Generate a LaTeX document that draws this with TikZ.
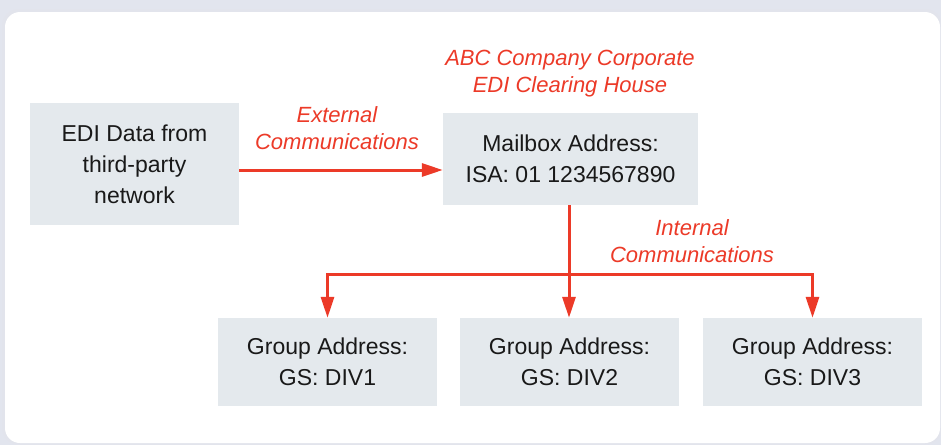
\documentclass[tikz,border=0pt]{standalone}
\usepackage{fontspec}
\setmainfont{Liberation Sans}
\usetikzlibrary{arrows.meta}
\definecolor{edired}{RGB}{236,58,40}
\definecolor{boxfill}{RGB}{228,233,237}
\definecolor{framebg}{RGB}{226,229,238}
\definecolor{frameline}{RGB}{206,211,224}
\tikzset{
  x=1pt, y=-1pt,
  infobox/.style={rectangle, fill=boxfill, inner sep=0pt, align=center,
    font=\fontsize{23}{31}\selectfont, text=black!90},
  redlabel/.style={align=center, text=edired,
    font=\fontsize{22}{27}\selectfont\itshape},
  flow/.style={draw=edired, line width=3pt,
    -{Triangle[length=21pt,width=13pt]}},
  flowline/.style={draw=edired, line width=3pt},
}
\begin{document}
\begin{tikzpicture}
  \useasboundingbox (0,0) rectangle (941,445);
  % outer panel with a soft edge
  \fill[framebg] (0,0) rectangle (941,445);
  \begin{scope}
    \clip (0,0) rectangle (941,445);
    \fill[frameline!60, rounded corners=17pt] (2,9) rectangle (942,444.5);
    \fill[white, rounded corners=15pt] (5,12) rectangle (940,443);
  \end{scope}

  % boxes
  \node[infobox, minimum width=209pt, minimum height=122pt] (src) at (134.5,164)
    {EDI Data from\\third-party\\network};
  \node[infobox, minimum width=255pt, minimum height=92pt] (mbox) at (570.5,159)
    {Mailbox Address:\\ISA: 01 1234567890};
  \node[infobox, minimum width=219pt, minimum height=88pt] (g1) at (327.5,362)
    {Group Address:\\GS: DIV1};
  \node[infobox, minimum width=219pt, minimum height=88pt] (g2) at (569.5,362)
    {Group Address:\\GS: DIV2};
  \node[infobox, minimum width=219pt, minimum height=88pt] (g3) at (812.5,362)
    {Group Address:\\GS: DIV3};

  % labels
  \node[redlabel] (title) at (570,74) {ABC Company Corporate\\EDI Clearing House};
  \node[redlabel] (ext) at (337,128) {External\\Communications};
  \node[redlabel] (int) at (692,241) {Internal\\Communications};

  % connectors
  \draw[flow] ([yshift=-6pt]src.east) -- ([yshift=-6pt]src.east -| mbox.west);
  \coordinate (split) at (569,274);
  \draw[flowline] (mbox.south -| split) -- (split);
  \draw[flow] (split) -- (split |- g2.north);
  \draw[flow] (split) -| (g1.north);
  \draw[flow] (split) -| (g3.north);
\end{tikzpicture}
\end{document}
